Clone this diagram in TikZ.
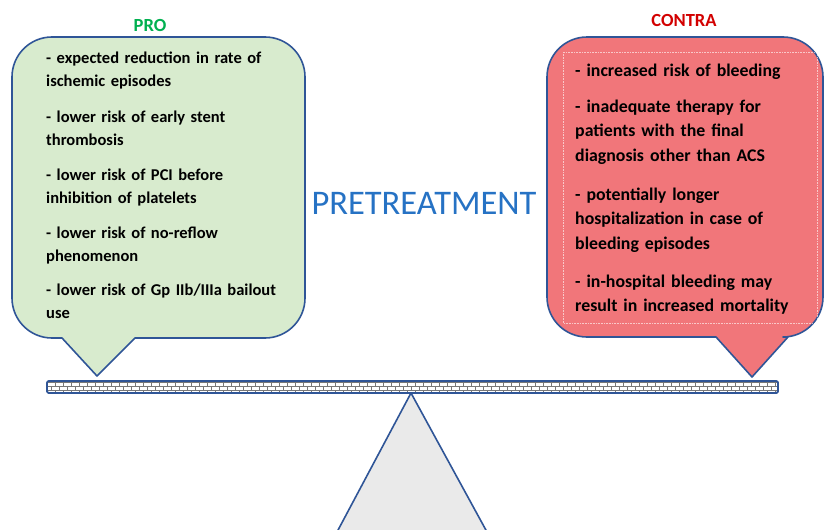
\documentclass[tikz,border=0pt]{standalone}
\usepackage{fontspec}
\setmainfont{Carlito}
\usetikzlibrary{calc}
\definecolor{myblue1}{RGB}{47, 85, 151}
\definecolor{mygreen1}{RGB}{216, 235, 206}
\definecolor{myred1}{RGB}{241, 118, 122}
\definecolor{mygray1}{RGB}{234, 234, 234}
\definecolor{mygray2}{RGB}{120, 120, 120}
\definecolor{titleblue}{RGB}{38, 114, 196}
\definecolor{progreen}{RGB}{0, 176, 80}
\definecolor{contrared}{RGB}{210, 0, 0}
\tikzset{>=latex}

\begin{document}
\begin{tikzpicture}[
    x = 1pt, y = -1pt,
    d0/.style = {line width = 1.6, draw = myblue1, line join = round},
    itemleft/.style = {anchor = base west, inner sep = 0, align = left, text width = 270,
        font = \bfseries\fontsize{16.5}{23.5}\selectfont},
    itemright/.style = {anchor = base west, inner sep = 0, align = left, text width = 245,
        font = \bfseries\fontsize{17.8}{24.5}\selectfont},
    head/.style = {font = \bfseries\fontsize{18.5}{20}\selectfont}
]
\useasboundingbox (0, 0) rectangle (825, 530);

% fulcrum
\draw[d0, fill = mygray1] (337, 532) -- (411, 393) -- (487, 532);

% beam
\draw[d0, fill = white, rounded corners = 2] (47, 381) rectangle (778, 393);
\begin{scope}
\clip (48, 382) rectangle (777, 392);
\foreach \r [evaluate = \r as \off using {4*mod(\r, 2)}] in {0, 1, 2} {
    \draw[mygray2, line width = 0.6] (47, 382.6 + 4*\r) -- (778, 382.6 + 4*\r);
    \foreach \k in {0, ..., 92} {
        \draw[mygray2, line width = 0.6] (47 + 8*\k + \off, 382.6 + 4*\r) -- ++(0, 4);
    }
}
\end{scope}
\draw[d0, rounded corners = 2] (47, 381) rectangle (778, 393);

% pro bubble
\draw[d0, fill = mygreen1] (97, 376) -- (62, 338) [rounded corners = 40] -- (12, 338) -- (12, 37)
    -- (305, 37) -- (305, 338) [sharp corners] -- (135, 338) -- cycle;

% contra bubble
\draw[d0, fill = myred1] (752, 377) -- (716, 337) [rounded corners = 40] -- (547, 337) -- (547, 37)
    -- (823, 37) -- (823, 337) [sharp corners] -- (788, 337) -- cycle;
\draw[white, opacity = 0.6, densely dotted, line width = 0.6] (563, 52) rectangle (817, 323);

\node[head, text = progreen] (pro) at (150, 25) {PRO};
\node[head, text = contrared] (contra) at (684, 20) {CONTRA};
\node[text = titleblue, font = \fontsize{34.5}{38}\selectfont] (title) at (424, 203) {PRETREATMENT};

\node[itemleft] (pro1) at (46, 63) {- expected reduction in rate of\\ischemic episodes};
\node[itemleft] (pro2) at (46, 122) {- lower risk of early stent\\thrombosis};
\node[itemleft] (pro3) at (46, 180) {- lower risk of PCI before\\inhibition of platelets};
\node[itemleft] (pro4) at (46, 238) {- lower risk of no-reflow\\phenomenon};
\node[itemleft] (pro5) at (46, 295) {- lower risk of Gp IIb/IIIa bailout\\use};

\node[itemright] (con1) at (575, 76) {- increased risk of bleeding};
\node[itemright] (con2) at (575, 112) {- inadequate therapy for\\patients with the final\\diagnosis other than ACS};
\node[itemright] (con3) at (575, 200) {- potentially longer\\hospitalization in case of\\bleeding episodes};
\node[itemright] (con4) at (575, 287) {- in-hospital bleeding may\\result in increased mortality};

\end{tikzpicture}
\end{document}
